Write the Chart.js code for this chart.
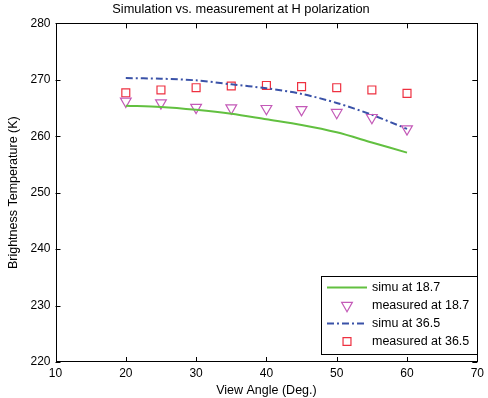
<!DOCTYPE html>
<html>
<head>
<meta charset="utf-8">
<script src="https://cdn.jsdelivr.net/npm/chart.js@4"></script>
<style>
  html, body { margin: 0; padding: 0; background: #fff; }
  #wrap { width: 488px; height: 398px; position: relative; }
</style>
</head>
<body>
<div id="wrap"><canvas id="c" width="488" height="398"></canvas></div>
<script>
// ---- data ----
const angles = [20, 25, 30, 35, 40, 45, 50, 55, 60];
const simu187 = [265.4, 265.2, 264.7, 264.0, 263.0, 262.0, 260.7, 258.9, 257.1];
const meas187 = [266.2, 265.9, 265.1, 265.0, 264.9, 264.7, 264.2, 263.3, 261.3];
const simu365 = [270.3, 270.2, 269.9, 269.2, 268.5, 267.5, 265.9, 263.8, 261.3];
const meas365 = [267.7, 268.2, 268.6, 268.9, 269.0, 268.8, 268.6, 268.2, 267.6];
const seriesNames = ['simu at 18.7', 'measured at 18.7', 'simu at 36.5', 'measured at 36.5'];
const xTicks = [10, 20, 30, 40, 50, 60, 70];
const yTicks = [220, 230, 240, 250, 260, 270, 280];
const titleText = 'Simulation vs. measurement at H polarization';
const xTitle = 'View Angle (Deg.)';
const yTitle = 'Brightness Temperature (K)';

const FONT = '"Liberation Sans", Arial, sans-serif';
const toXY = (ys) => angles.map((a, i) => ({ x: a, y: ys[i] }));

const datasets = [
  { label: seriesNames[0], data: toXY(simu187), showLine: true, borderColor: '#62c040',
    backgroundColor: '#62c040', borderWidth: 2, pointRadius: 0, pointHoverRadius: 0, tension: 0.3 },
  { label: seriesNames[1], data: toXY(meas187), showLine: false, pointStyle: 'triangle',
    rotation: 180, pointRadius: 6.2, borderColor: '#c45ab8', backgroundColor: 'rgba(0,0,0,0)', borderWidth: 1.2 },
  { label: seriesNames[2], data: toXY(simu365), showLine: true, borderColor: '#3a52a8',
    backgroundColor: '#3a52a8', borderWidth: 2, borderDash: [7, 3, 2, 3], pointRadius: 0, pointHoverRadius: 0, tension: 0.3 },
  { label: seriesNames[3], data: toXY(meas365), showLine: false, pointStyle: 'rect',
    pointRadius: 5.6, borderColor: '#ee3040', backgroundColor: 'rgba(0,0,0,0)', borderWidth: 1.2 }
];

const framePlugin = {
  id: 'frame',
  afterDatasetsDraw(chart) {
    const { ctx, chartArea: a, scales } = chart;
    ctx.save();
    ctx.strokeStyle = '#000';
    ctx.lineWidth = 1;
    ctx.strokeRect(Math.round(a.left) + 0.5, Math.round(a.top) + 0.5,
                   Math.round(a.right - a.left) - 1, Math.round(a.bottom - a.top) - 1);
    const L = 5;
    ctx.beginPath();
    xTicks.forEach(v => {
      const px = Math.round(scales.x.getPixelForValue(v)) + 0.5;
      ctx.moveTo(px, a.bottom); ctx.lineTo(px, a.bottom - L);
      ctx.moveTo(px, a.top); ctx.lineTo(px, a.top + L);
    });
    yTicks.forEach(v => {
      const py = Math.round(scales.y.getPixelForValue(v)) + 0.5;
      ctx.moveTo(a.left, py); ctx.lineTo(a.left + L, py);
      ctx.moveTo(a.right, py); ctx.lineTo(a.right - L, py);
    });
    ctx.stroke();

    // legend box
    const bx = 321, by = 276, bw = 156, bh = 78;
    ctx.fillStyle = '#fff';
    ctx.fillRect(bx, by, bw, bh);
    ctx.strokeRect(bx + 0.5, by + 0.5, bw, bh);
    const rows = [287.5, 305.5, 323.5, 341.5];
    ctx.font = '12.5px ' + FONT;
    ctx.textBaseline = 'middle';
    ctx.textAlign = 'left';
    chart.data.datasets.forEach((ds, i) => {
      const y = rows[i];
      ctx.save();
      ctx.strokeStyle = ds.borderColor;
      ctx.fillStyle = 'rgba(0,0,0,0)';
      ctx.lineWidth = ds.borderWidth;
      if (ds.showLine) {
        ctx.setLineDash(ds.borderDash || []);
        ctx.beginPath();
        ctx.moveTo(327, y); ctx.lineTo(367, y);
        ctx.stroke();
      } else {
        Chart.helpers.drawPoint(ctx, {
          pointStyle: ds.pointStyle, radius: ds.pointRadius,
          rotation: ds.rotation || 0, borderWidth: ds.borderWidth
        }, 347, y);
      }
      ctx.restore();
      ctx.fillStyle = '#000';
      ctx.fillText(ds.label, 372, y + 0.5);
    });
    ctx.restore();
  }
};

new Chart(document.getElementById('c'), {
  type: 'scatter',
  data: { datasets },
  plugins: [framePlugin],
  options: {
    responsive: false,
    animation: false,
    layout: { padding: { left: 0, right: 6, top: 0, bottom: 0 } },
    plugins: {
      legend: { display: false },
      tooltip: { enabled: false },
      title: {
        display: true, text: titleText, color: '#000',
        font: { family: FONT, size: 12.8, weight: 'normal' },
        padding: { top: 2, bottom: 6 }
      }
    },
    scales: {
      x: {
        type: 'linear', min: 10, max: 70,
        afterBuildTicks: (s) => { s.ticks = xTicks.map(v => ({ value: v })); },
        afterFit: (s) => { s.height = 36; },
        grid: { display: false, drawTicks: false },
        border: { display: false },
        ticks: { color: '#000', padding: 4, font: { family: FONT, size: 12 } },
        title: { display: true, text: xTitle, color: '#000', padding: { top: 1, bottom: 0 },
                 font: { family: FONT, size: 12.5 } }
      },
      y: {
        type: 'linear', min: 220, max: 280,
        afterBuildTicks: (s) => { s.ticks = yTicks.map(v => ({ value: v })); },
        afterFit: (s) => { s.width = 55.5; },
        grid: { display: false, drawTicks: false },
        border: { display: false },
        ticks: { color: '#000', padding: 5, font: { family: FONT, size: 12 } },
        title: { display: true, text: yTitle, color: '#000', padding: { top: 6, bottom: 2 },
                 font: { family: FONT, size: 12.5 } }
      }
    }
  }
});
</script>
</body>
</html>
